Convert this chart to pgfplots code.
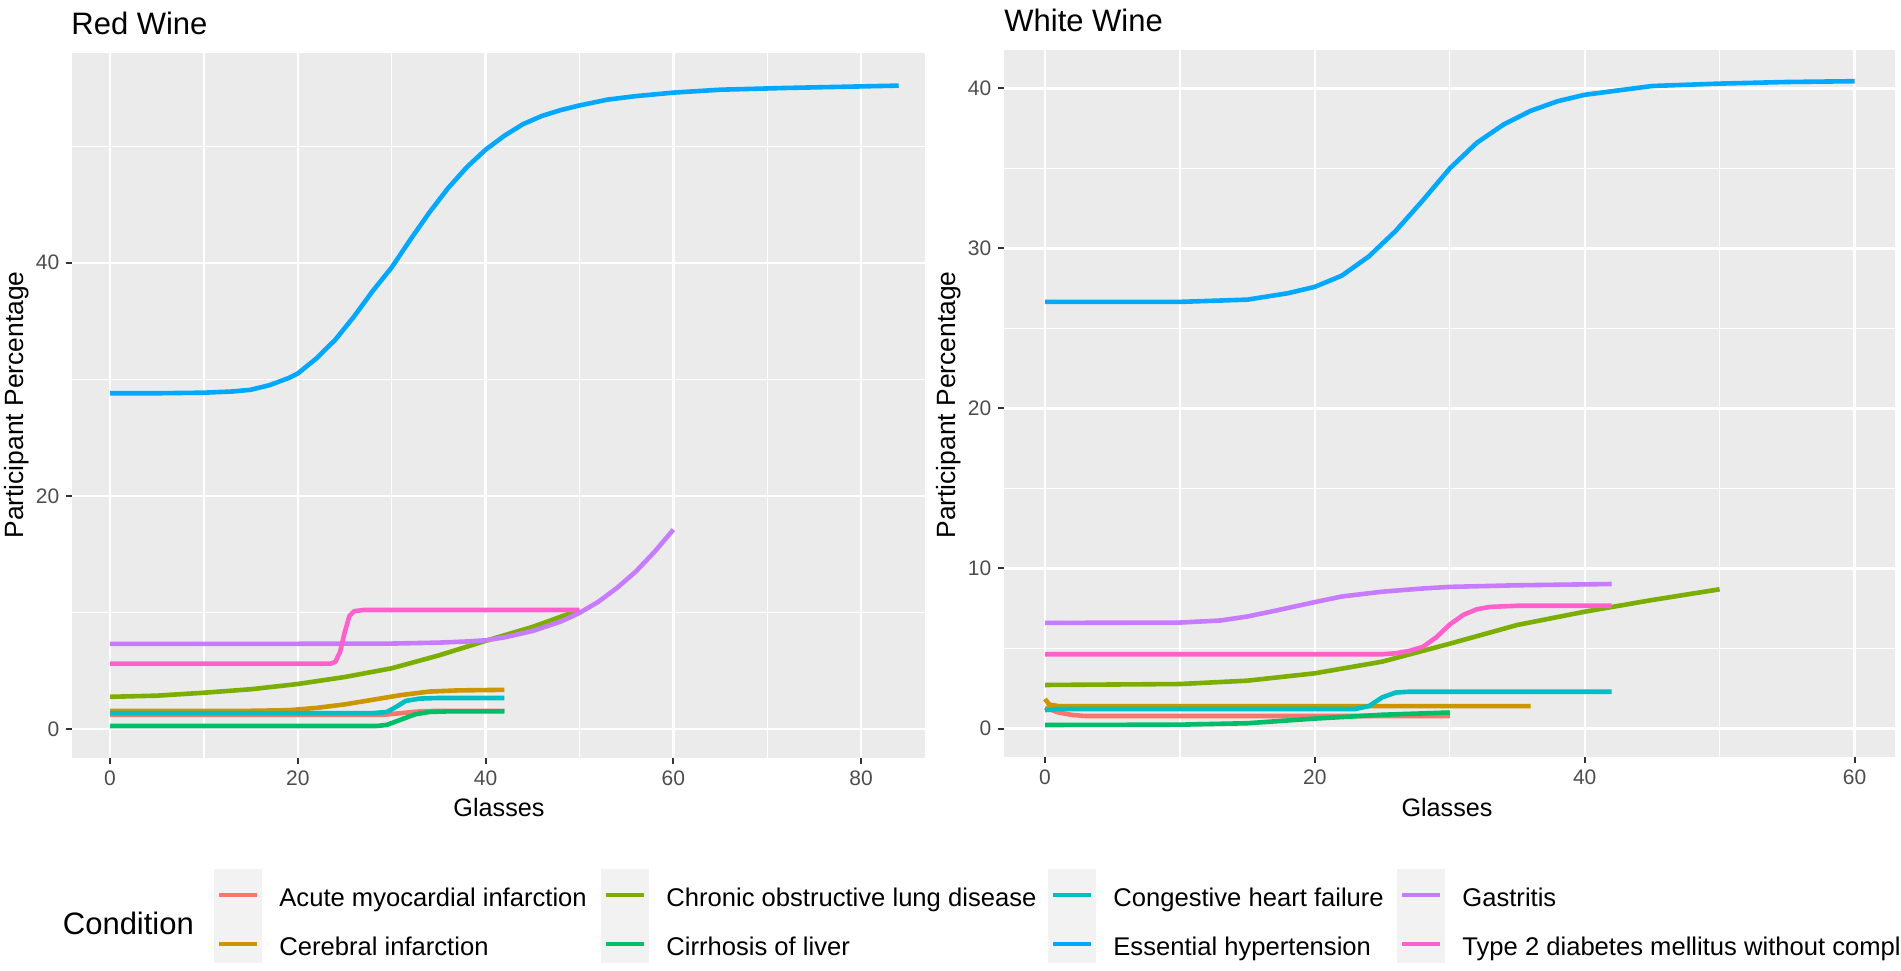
\documentclass[border=0pt]{standalone}
\usepackage{pgfplots}
\pgfplotsset{compat=1.18}
\usepackage{fontspec}
\setmainfont{Liberation Sans}
\definecolor{cAMI}{HTML}{F8766D}
\definecolor{cCI}{HTML}{CD9600}
\definecolor{cCOPD}{HTML}{7CAE00}
\definecolor{cCIR}{HTML}{00BE67}
\definecolor{cCHF}{HTML}{00BFC4}
\definecolor{cEH}{HTML}{00A9FF}
\definecolor{cGAS}{HTML}{C77CFF}
\definecolor{cT2D}{HTML}{FF61CC}
\definecolor{panelbg}{HTML}{EBEBEB}
\definecolor{tickgrey}{HTML}{4D4D4D}
\definecolor{tickmark}{HTML}{333333}
\definecolor{keybg}{HTML}{F2F2F2}
\pgfplotsset{
 ggstyle/.style={
  scale only axis,
  axis background/.style={fill=panelbg},
  axis x line*=bottom, axis y line*=left,
  axis line style={draw=none},
  grid=both,
  major grid style={white, line width=1.2pt},
  minor grid style={white, line width=0.6pt},
  tick align=outside,
  major tick length=2.8pt,
  minor tick length=0pt,
  major tick style={tickmark, line width=1pt},
  tick label style={font=\fontsize{10.5}{12}\selectfont, text=tickgrey},
  /pgf/number format/assume math mode=true,
  every axis plot/.append style={line width=2.3pt, line join=round, no markers},
 }
}
\begin{document}
\begin{tikzpicture}[x=1pt,y=1pt]
\useasboundingbox (0,0) rectangle (950.5,485);
% ---------------- Red Wine ----------------
\begin{axis}[ggstyle, at={(36pt,106pt)}, anchor=south west,
  width=426.5pt, height=352.5pt,
  xmin=-4.05, xmax=86.8, ymin=-2.5, ymax=58.0,
  xtick={0,20,40,60,80}, minor xtick={10,30,50,70},
  ytick={0,20,40}, minor ytick={10,30,50}]
\addplot[cAMI] coordinates {(0,1.2)(29,1.2)(31,1.35)(33,1.5)(35,1.55)(42,1.55)};
\addplot[cCI] coordinates {(0,1.55)(15,1.55)(19,1.6)(22,1.8)(25,2.1)(28,2.5)(31,2.9)(34,3.2)(37,3.3)(42,3.35)};
\addplot[cCOPD] coordinates {(0,2.75)(5,2.85)(10,3.1)(15,3.4)(20,3.85)(25,4.45)(30,5.2)(35,6.3)(40,7.55)(45,8.75)(50,10.2)};
\addplot[cCIR] coordinates {(0,0.25)(28.5,0.25)(29.5,0.35)(31,0.8)(32.5,1.25)(34,1.45)(36,1.5)(42,1.5)};
\addplot[cCHF] coordinates {(0,1.35)(28,1.35)(29.5,1.45)(30.5,1.9)(31.5,2.4)(33,2.6)(35,2.65)(42,2.65)};
\addplot[cEH] coordinates {(0,28.8)(5,28.8)(10,28.85)(13,28.95)(15,29.1)(17,29.5)(19,30.1)(20,30.5)(22,31.8)(24,33.4)(26,35.4)(28,37.6)(30,39.6)(32,42)(34,44.3)(36,46.4)(38,48.2)(40,49.7)(42,50.9)(44,51.9)(46,52.6)(48,53.1)(50,53.5)(53,54.0)(56,54.3)(60,54.6)(65,54.85)(72,55.0)(78,55.1)(84,55.2)};
\addplot[cGAS] coordinates {(0,7.3)(10,7.3)(20,7.3)(30,7.32)(35,7.4)(38,7.5)(40,7.6)(42,7.85)(45,8.4)(48,9.2)(50,9.95)(52,10.9)(54,12.1)(56,13.5)(58,15.2)(60,17.1)};
\addplot[cT2D] coordinates {(0,5.6)(23.5,5.6)(24,5.75)(24.5,6.6)(25,8.3)(25.5,9.7)(26,10.1)(27,10.2)(50,10.2)};
\end{axis}
% ---------------- White Wine ----------------
\begin{axis}[ggstyle, at={(502pt,106.5pt)}, anchor=south west,
  width=445.5pt, height=353.5pt,
  xmin=-3.04, xmax=63, ymin=-1.78, ymax=42.4,
  xtick={0,20,40,60}, minor xtick={10,30,50},
  ytick={0,10,20,30,40}, minor ytick={5,15,25,35}]
\addplot[cAMI] coordinates {(0,1.3)(1,1.0)(2,0.85)(3,0.78)(30,0.78)};
\addplot[cCI] coordinates {(0,1.85)(0.3,1.5)(1,1.4)(36,1.4)};
\addplot[cCOPD] coordinates {(0,2.72)(10,2.78)(15,2.99)(20,3.45)(25,4.18)(30,5.3)(35,6.47)(40,7.3)(45,8.03)(50,8.7)};
\addplot[cCIR] coordinates {(0,0.22)(10,0.24)(15,0.33)(20,0.62)(25,0.86)(30,1.0)};
\addplot[cCHF] coordinates {(0,1.15)(1,1.22)(23,1.22)(24,1.4)(25,1.95)(26,2.25)(27,2.3)(42,2.3)};
\addplot[cEH] coordinates {(0,26.66)(10,26.66)(15,26.8)(18,27.2)(20,27.6)(22,28.3)(24,29.5)(26,31.1)(28,33.0)(30,35.0)(32,36.6)(34,37.75)(36,38.6)(38,39.2)(40,39.6)(45,40.15)(50,40.3)(55,40.4)(60,40.45)};
\addplot[cGAS] coordinates {(0,6.6)(10,6.62)(13,6.75)(15,7.0)(17,7.35)(20,7.9)(22,8.25)(25,8.55)(28,8.75)(30,8.85)(35,8.95)(42,9.03)};
\addplot[cT2D] coordinates {(0,4.64)(25,4.64)(26,4.7)(27,4.85)(28,5.1)(29,5.7)(30,6.5)(31,7.1)(32,7.45)(33,7.6)(35,7.67)(42,7.67)};
\end{axis}
% ---------------- titles and axis labels ----------------
\node[anchor=base west, inner sep=0pt, font=\fontsize{15.5}{18}\selectfont] at (35.5,467.5) {Red Wine};
\node[anchor=base west, inner sep=0pt, font=\fontsize{15.5}{18}\selectfont] at (502,469) {White Wine};
\node[anchor=base, inner sep=0pt, font=\fontsize{12.6}{15}\selectfont] at (249.5,77) {Glasses};
\node[anchor=base, inner sep=0pt, font=\fontsize{12.6}{15}\selectfont] at (723.5,77) {Glasses};
\node[rotate=90, inner sep=0pt, font=\fontsize{13.2}{15}\selectfont] at (8.5,282.5) {Participant Percentage};
\node[rotate=90, inner sep=0pt, font=\fontsize{13.2}{15}\selectfont] at (474.5,282.5) {Participant Percentage};
% ---------------- legend ----------------
\node[anchor=base west, inner sep=0pt, font=\fontsize{15.5}{18}\selectfont] at (31.25,18) {Condition};
\foreach \bx in {107,300.5,524,698.5} {
  \fill[keybg] (\bx,3.5) rectangle ++(24,47);
}
\foreach \bx/\by/\col/\txt in {
  107/37.5/cAMI/Acute myocardial infarction,
  107/13/cCI/Cerebral infarction,
  300.5/37.5/cCOPD/Chronic obstructive lung disease,
  300.5/13/cCIR/Cirrhosis of liver,
  524/37.5/cCHF/Congestive heart failure,
  524/13/cEH/Essential hypertension,
  698.5/37.5/cGAS/Gastritis,
  698.5/13/cT2D/Type 2 diabetes mellitus without complications} {
  \draw[\col, line width=2pt] (\bx+2.5,\by) -- (\bx+21.5,\by);
  \node[anchor=base west, inner sep=0pt, font=\fontsize{12.8}{15}\selectfont] at (\bx+32.5,\by-5.5) {\txt};
}
\end{tikzpicture}
\end{document}
